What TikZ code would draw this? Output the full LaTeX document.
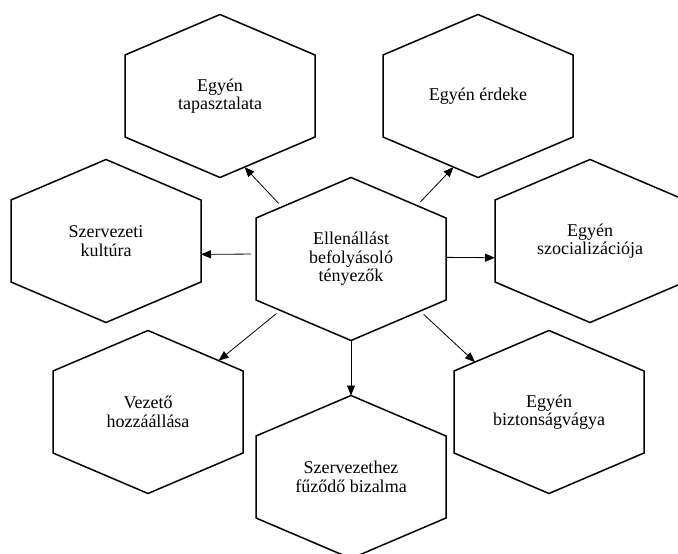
\documentclass[tikz,border=0pt]{standalone}
\usepackage{fontspec}
\setmainfont{Liberation Serif}
\usetikzlibrary{arrows.meta}

\makeatletter
% Hexagon with a point at top and bottom
\def\hexhalfw{95pt}
\def\hexhalfh{81.5pt}
\def\hexside{41pt}
\pgfdeclareshape{hexcell}{
  \savedanchor\centerpoint{%
    \pgf@x=.5\wd\pgfnodeparttextbox
    \pgf@y=.5\ht\pgfnodeparttextbox
    \advance\pgf@y by -.5\dp\pgfnodeparttextbox
  }
  \anchor{center}{\centerpoint}
  \anchor{text}{\pgfpointorigin}
  \anchor{north}{\centerpoint\advance\pgf@y by \hexhalfh}
  \anchor{south}{\centerpoint\advance\pgf@y by -\hexhalfh}
  \anchor{east}{\centerpoint\advance\pgf@x by \hexhalfw}
  \anchor{west}{\centerpoint\advance\pgf@x by -\hexhalfw}
  \anchorborder{%
    \edef\hex@dx{\the\pgf@x}%
    \edef\hex@dy{\the\pgf@y}%
    \pgfmathsetmacro\hex@len{max(veclen(\hex@dx,\hex@dy),0.001)}%
    \pgfmathsetmacro\hex@ux{\hex@dx/\hex@len}%
    \pgfmathsetmacro\hex@uy{\hex@dy/\hex@len}%
    \pgfmathsetmacro\hex@t{min(\hexhalfw/max(abs(\hex@ux),0.01),
      \hexhalfh/(abs(\hex@uy)+(\hexhalfh-\hexside)*abs(\hex@ux)/\hexhalfw))}%
    \pgfmathsetmacro\hex@px{\hex@t*\hex@ux}%
    \pgfmathsetmacro\hex@py{\hex@t*\hex@uy}%
    \centerpoint
    \advance\pgf@x by \hex@px pt
    \advance\pgf@y by \hex@py pt
  }
  \backgroundpath{%
    \centerpoint
    \edef\hex@cx{\the\pgf@x}%
    \edef\hex@cy{\the\pgf@y}%
    \pgfpathmoveto{\pgfpoint{\hex@cx}{\hex@cy+\hexhalfh}}%
    \pgfpathlineto{\pgfpoint{\hex@cx+\hexhalfw}{\hex@cy+\hexside}}%
    \pgfpathlineto{\pgfpoint{\hex@cx+\hexhalfw}{\hex@cy-\hexside}}%
    \pgfpathlineto{\pgfpoint{\hex@cx}{\hex@cy-\hexhalfh}}%
    \pgfpathlineto{\pgfpoint{\hex@cx-\hexhalfw}{\hex@cy-\hexside}}%
    \pgfpathlineto{\pgfpoint{\hex@cx-\hexhalfw}{\hex@cy+\hexside}}%
    \pgfpathclose
  }
}
\makeatother

\tikzset{
  hexa/.style={shape=hexcell, draw, line width=1.5pt, align=center,
    inner sep=0pt, font=\fontsize{18}{18.5}\selectfont},
  link/.style={-{Triangle[length=10pt,width=8pt]}, line width=0.8pt},
  gap/.style={shorten <=5pt}
}

\begin{document}
\begin{tikzpicture}[x=1pt,y=-1pt]

\useasboundingbox (0,0) rectangle (678,554);
\clip (0,0) rectangle (678,554);

% Factors
\node[hexa] (c) at (351,259) {Ellenállást\\befolyásoló\\tényezők};
\node[hexa] (tl) at (220,96) {Egyén\\tapasztalata};
\node[hexa] (tr) at (478,96) {Egyén érdeke};
\node[hexa] (l) at (106,241) {Szervezeti\\kultúra};
\node[hexa] (r) at (590,241) {Egyén\\szocializációja};
\node[hexa] (ll) at (148,412) {Vezető\\hozzáállása};
\node[hexa] (lr) at (549,412) {Egyén\\biztonságvágya};
\node[hexa] (b) at (351,477) {Szervezethez\\fűződő bizalma};

% Arrows
\draw[link, gap] (c.143) -- (tl.289);
\draw[link, gap] (c.39) -- (tr.251);
\draw[link, gap] (c.177) -- (l.352);
\draw[link] (c.1) -- (r.190);
\draw[link, gap] (c.216) -- (ll.36);
\draw[link, gap] (c.323) -- (lr.146);
\draw[link] (c) -- (b);

\end{tikzpicture}
\end{document}
